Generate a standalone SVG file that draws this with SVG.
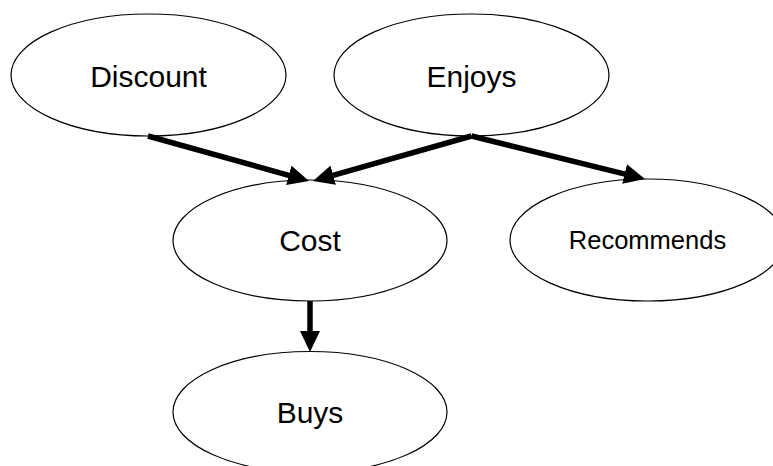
<svg xmlns="http://www.w3.org/2000/svg" width="773" height="466" viewBox="0 0 773 466">
<defs>
<style>
.node ellipse{fill:#fff;stroke:#000;stroke-width:1.2}
.node text{font-family:"Liberation Sans",Arial,sans-serif;fill:#000;text-anchor:middle}
.edge{stroke:#000;stroke-width:5.5;fill:none}
</style>
<marker id="ah" markerUnits="userSpaceOnUse" markerWidth="21" markerHeight="20" viewBox="0 0 21 20" refX="13" refY="10" orient="auto">
<path d="M0,0 L21,10 L0,20 z" fill="#000"/>
</marker>
</defs>
<rect width="773" height="466" fill="#fff"/>
<g id="node-discount" class="node">
<ellipse cx="148.5" cy="75" rx="137.5" ry="61"/>
<text x="148.5" y="87" font-size="30">Discount</text>
</g>
<g id="node-enjoys" class="node">
<ellipse cx="471.5" cy="75" rx="137.5" ry="61"/>
<text x="471.5" y="87" font-size="30">Enjoys</text>
</g>
<g id="node-cost" class="node">
<ellipse cx="310" cy="240.5" rx="137" ry="60.5"/>
<text x="310" y="251" font-size="30">Cost</text>
</g>
<g id="node-recommends" class="node">
<ellipse cx="647.5" cy="240" rx="137.5" ry="61"/>
<text x="647.5" y="249" font-size="25.5">Recommends</text>
</g>
<g id="node-buys" class="node">
<ellipse cx="310" cy="412" rx="137" ry="60.5"/>
<text x="310" y="423" font-size="30">Buys</text>
</g>
<g id="connectors">
<line class="edge" x1="148" y1="136" x2="301.3" y2="178.8" marker-end="url(#ah)"/>
<line class="edge" x1="471.5" y1="136" x2="320.7" y2="178.8" marker-end="url(#ah)"/>
<line class="edge" x1="471.5" y1="136" x2="637.2" y2="177.1" marker-end="url(#ah)"/>
<line class="edge" x1="310" y1="301" x2="310" y2="344" marker-end="url(#ah)"/>
</g>
</svg>
